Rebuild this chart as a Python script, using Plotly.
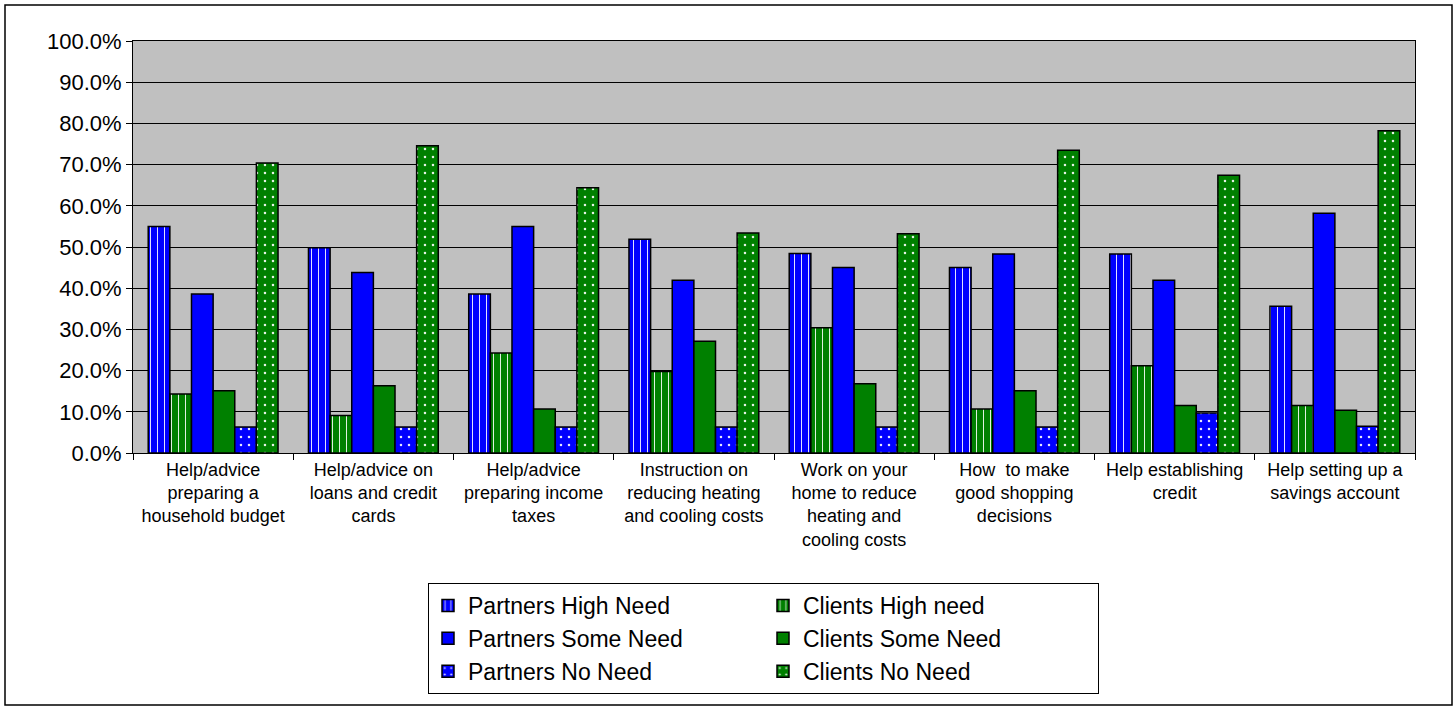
import plotly.graph_objects as go

categories = [
    "Help/advice<br>preparing a<br>household budget",
    "Help/advice on<br>loans and credit<br>cards",
    "Help/advice<br>preparing income<br>taxes",
    "Instruction on<br>reducing heating<br>and cooling costs",
    "Work on your<br>home to reduce<br>heating and<br>cooling costs",
    "How  to make<br>good shopping<br>decisions",
    "Help establishing<br>credit",
    "Help setting up a<br>savings account",
]

partners_high = [55.0, 49.8, 38.6, 51.9, 48.4, 45.0, 48.3, 35.6]
clients_high = [14.3, 9.1, 24.3, 19.8, 30.4, 10.7, 21.2, 11.5]
partners_some = [38.6, 43.8, 55.0, 41.9, 45.0, 48.3, 41.9, 58.2]
clients_some = [15.1, 16.3, 10.7, 27.1, 16.8, 15.1, 11.5, 10.4]
partners_none = [6.3, 6.3, 6.3, 6.3, 6.3, 6.3, 9.7, 6.5]
clients_none = [70.4, 74.6, 64.4, 53.4, 53.2, 73.5, 67.4, 78.2]

series = [
    ("Partners High Need", partners_high, "#0000FF", "|", "partners"),
    ("Clients High need", clients_high, "#008000", "|", "clients"),
    ("Partners Some Need", partners_some, "#0000FF", "", "partners"),
    ("Clients Some Need", clients_some, "#008000", "", "clients"),
    ("Partners No Need", partners_none, "#0000FF", ".", "partners"),
    ("Clients No Need", clients_none, "#008000", ".", "clients"),
]

fig = go.Figure()
for name, vals, color, shape, grp in series:
    pattern = dict(shape=shape)
    if shape == "|":
        pattern.update(fgcolor="white", size=7, solidity=0.14, fgopacity=0.9)
    elif shape == ".":
        pattern.update(fgcolor="white", size=8, solidity=0.08, fgopacity=0.9)
    fig.add_trace(go.Bar(
        name=name, x=categories, y=vals, legendgroup=grp,
        marker=dict(color=color, line=dict(color="black", width=1.5), pattern=pattern),
    ))

W, H = 1456, 709
L, R, T, B = 133, 41, 41, 256
pw, ph = W - L - R, H - T - B

def px_x(x):
    return (x - L) / pw

def px_y(y):
    return (H - B - y) / ph

fig.update_layout(
    width=W, height=H,
    margin=dict(l=L, r=R, t=T, b=B),
    paper_bgcolor="white",
    plot_bgcolor="#C0C0C0",
    barmode="group",
    bargap=0.19,
    bargroupgap=0,
    font=dict(family="Liberation Sans, Arial, sans-serif", color="black"),
    showlegend=True,
    legend=dict(
        orientation="h",
        traceorder="grouped",
        groupclick="toggleitem",
        x=px_x(428), xanchor="left",
        y=px_y(583), yanchor="top",
        font=dict(size=23, color="black"),
        bordercolor="black", borderwidth=1,
        bgcolor="white",
        entrywidth=290,
        tracegroupgap=0,
    ),
    shapes=[dict(
        type="rect", xref="paper", yref="paper",
        x0=px_x(5), x1=px_x(1452), y0=px_y(705), y1=px_y(5),
        line=dict(color="black", width=1.5), fillcolor="rgba(0,0,0,0)", layer="below",
    )],
)

fig.update_xaxes(
    showline=True, linecolor="black", linewidth=1, mirror=True,
    ticks="outside", tickson="boundaries", ticklen=6, tickcolor="black",
    tickfont=dict(size=18, color="black"),
    showgrid=False,
)
fig.update_yaxes(
    range=[0, 100], dtick=10, tickformat=".1f", ticksuffix="%",
    showline=True, linecolor="black", linewidth=1, mirror=True,
    ticks="outside", ticklen=6, tickcolor="black",
    tickfont=dict(size=22, color="black"),
    showgrid=True, gridcolor="black", gridwidth=1,
    zeroline=False,
)

fig.write_html(
    "out.html",
    config={"displayModeBar": False},
    post_script="document.body.style.margin='0';document.body.style.overflow='hidden';",
)
